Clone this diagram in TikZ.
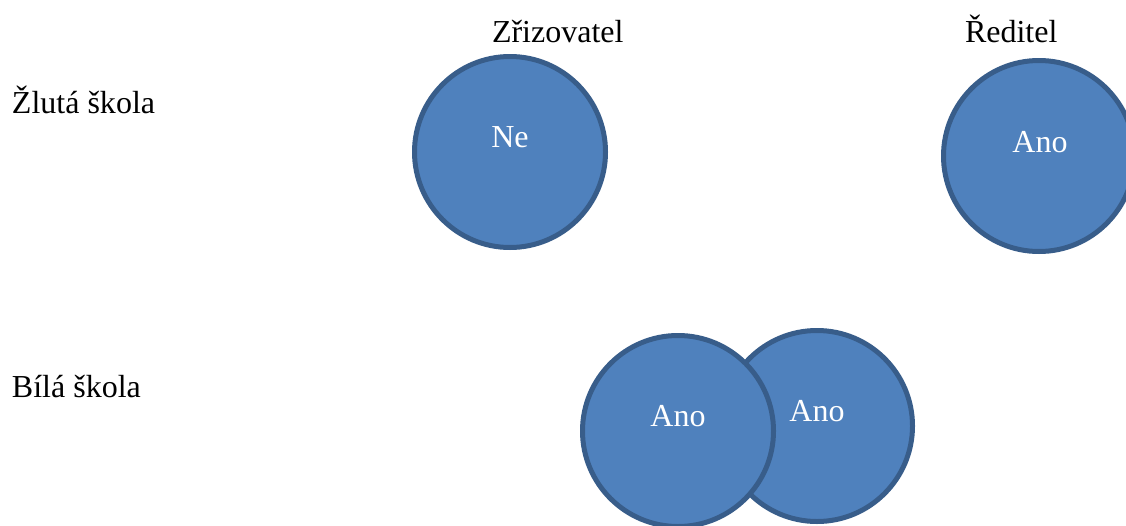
\documentclass[tikz,border=0pt]{standalone}
\usepackage{fontspec}
\setmainfont{Liberation Serif}
\definecolor{bubblefill}{HTML}{4F81BD}
\definecolor{bubbleline}{HTML}{385D8A}
\begin{document}
\begin{tikzpicture}[x=1pt,y=-1pt,
  every node/.style={inner sep=0pt,outer sep=0pt,font=\fontsize{32}{38}\selectfont},
  bubble/.style={circle,draw=bubbleline,fill=bubblefill,line width=5pt,minimum size=191pt},
  answer/.style={anchor=base,text=white},
  heading/.style={anchor=base west,text=black}]
\useasboundingbox (0,0) rectangle (1126,525);

% column and row headings
\node[heading] (zriz) at (492,42) {Zřizovatel};
\node[heading] (red) at (965,42) {Ředitel};
\node[heading] (zluta) at (12,113) {Žlutá škola};
\node[heading] (bila) at (12,397) {Bílá škola};

% yellow school
\node[bubble] (c1) at (510,152) {};
\node[answer] (t1) at (510,147) {Ne};
\node[bubble] (c2) at (1039,156) {};
\node[answer] (t2) at (1040,152) {Ano};

% white school: right circle lies behind the left one
\node[bubble] (c4) at (817,426) {};
\node[answer] (t4) at (817,421) {Ano};
\node[bubble] (c3) at (678,431) {};
\node[answer] (t3) at (678,426) {Ano};
\end{tikzpicture}
\end{document}
